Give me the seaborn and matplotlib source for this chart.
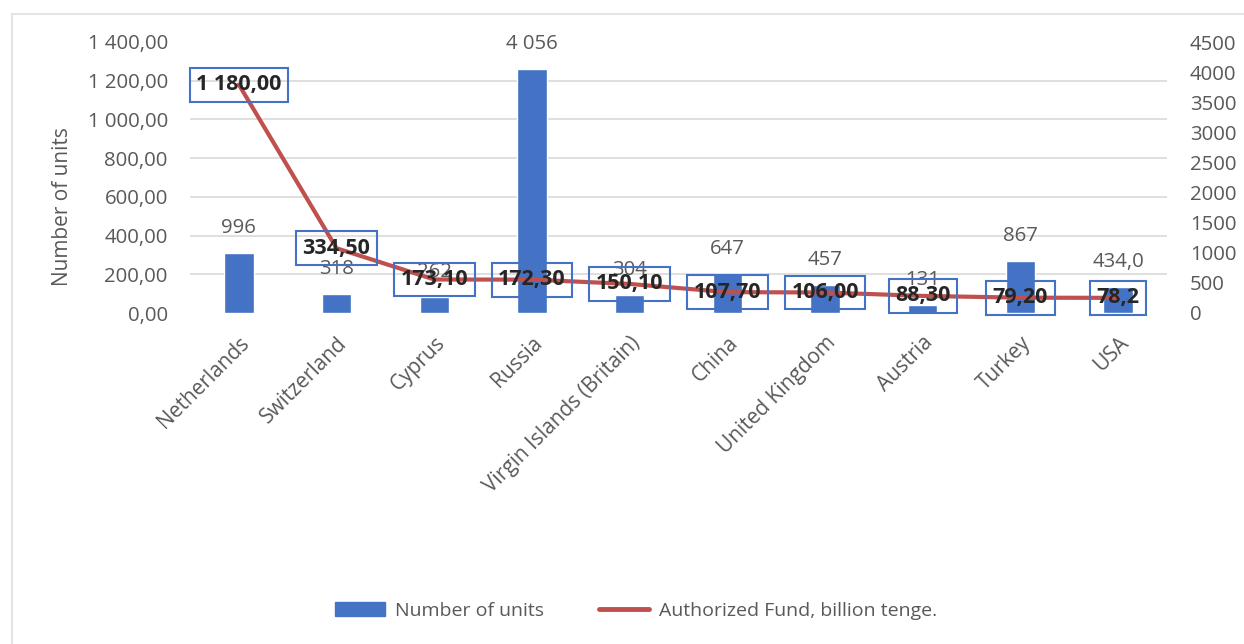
import numpy as np
import pandas as pd
import matplotlib
matplotlib.use("Agg")
import matplotlib.pyplot as plt
from matplotlib.ticker import FuncFormatter, FixedLocator, NullFormatter
from matplotlib.lines import Line2D
from matplotlib.patches import Patch
import seaborn as sns

countries = ["Netherlands", "Switzerland", "Cyprus", "Russia", "Virgin Islands (Britain)",
             "China", "United Kingdom", "Austria", "Turkey", "USA"]
units = [996, 318, 262, 4056, 304, 647, 457, 131, 867, 434.0]
unit_labels = ["996", "318", "262", "4 056", "304", "647", "457", "131", "867", "434,0"]
fund = [1180.00, 334.50, 173.10, 172.30, 150.10, 107.70, 106.00, 88.30, 79.20, 78.2]
fund_labels = ["1 180,00", "334,50", "173,10", "172,30", "150,10", "107,70", "106,00",
               "88,30", "79,20", "78,2"]
left_ticks = [0, 200, 400, 600, 800, 1000, 1200, 1400]
right_ticks = [0, 500, 1000, 1500, 2000, 2500, 3000, 3500, 4000, 4500]

BAR = "#4472C4"
LINE = "#C0504D"
TXT = "#595959"
GRID = "#D9D9D9"

sns.set_theme(style="white")
plt.rcParams["font.family"] = ["Open Sans", "DejaVu Sans"]

df = pd.DataFrame({"country": countries, "units": units, "fund": fund})

W, H = 1244, 644
fig = plt.figure(figsize=(W / 100, H / 100), dpi=100)
fig.patch.set_facecolor("white")
# outer faint frame
fig.add_artist(Line2D([12 / W, 12 / W], [0, 1 - 14 / H], color="#E4E4E4", lw=1.5, transform=fig.transFigure))
fig.add_artist(Line2D([12 / W, 1], [1 - 14 / H, 1 - 14 / H], color="#E4E4E4", lw=1.5, transform=fig.transFigure))

x0, x1 = 190 / W, 1167 / W
y0, y1 = 1 - 313 / H, 1 - 42 / H
ax = fig.add_axes([x0, y0, x1 - x0, y1 - y0])
ax2 = ax.twinx()

# bars on the secondary (right) axis
sns.barplot(data=df, x="country", y="units", ax=ax2, color=BAR, saturation=1, width=0.3)
ax2.set_ylim(0, 4500)
ax2.set_yticks(right_ticks)
ax2.yaxis.set_minor_locator(FixedLocator([4500 * k / 7 for k in range(8)]))
ax2.yaxis.set_minor_formatter(NullFormatter())
ax2.grid(False, which="major")
ax2.grid(True, which="minor", axis="y", color=GRID, lw=1.2)
ax2.set_axisbelow(True)
ax2.tick_params(axis="y", which="both", length=0, labelsize=14.7, labelcolor=TXT, pad=16.5)
for lbl in ax2.get_yticklabels():
    lbl.set_horizontalalignment("left")
ax2.set_ylabel("")

for i, (v, s) in enumerate(zip(units, unit_labels)):
    ax2.annotate(s, (i, v), xytext=(0, 18), textcoords="offset points",
                 ha="center", va="center", fontsize=14.7, color=TXT)

# line on the primary (left) axis, drawn on top
ax.set_zorder(ax2.get_zorder() + 1)
ax.patch.set_visible(False)
sns.pointplot(data=df, x="country", y="fund", ax=ax, color=LINE, markers="",
              linestyles="-", linewidth=3.0)
ax.set_ylim(0, 1400)
ax.set_yticks(left_ticks)
ax.yaxis.set_major_formatter(FuncFormatter(
    lambda v, p: f"{v:,.2f}".replace(",", " ").replace(".", ",")))
ax.tick_params(axis="y", length=0, labelsize=14.7, labelcolor=TXT, pad=16)
ax.set_xlim(-0.5, len(countries) - 0.5)
ax.set_xticks(range(len(countries)))
ax.set_xticklabels(countries, rotation=45, ha="right", rotation_mode="anchor",
                   fontsize=15, color=TXT)
ax.tick_params(axis="x", length=0, pad=14)
ax.set_xlabel("")
ax.set_ylabel("")
for a in (ax, ax2):
    for sp in a.spines.values():
        sp.set_visible(False)

for i, (v, s) in enumerate(zip(fund, fund_labels)):
    ax.text(i, v, s, ha="center", va="center", fontsize=15.5, fontweight="bold",
            color="#262626",
            bbox=dict(boxstyle="square,pad=0.3", fc="none", ec=BAR, lw=1.5))

fig.text(62 / W, 1 - 207 / H, "Number of units", rotation=90, ha="center", va="center",
         fontsize=15, color=TXT)

handles = [Patch(facecolor=BAR, edgecolor=BAR),
           Line2D([0], [0], color=LINE, lw=3.5)]
fig.legend(handles, ["Number of units", "Authorized Fund, billion tenge."],
           loc="center", bbox_to_anchor=(636 / W, 1 - 611 / H), ncol=2, frameon=False,
           fontsize=14, labelcolor=TXT, handlelength=2.6, columnspacing=2.8,
           handletextpad=0.5)

fig.savefig("out.png", dpi=100, facecolor="white")
